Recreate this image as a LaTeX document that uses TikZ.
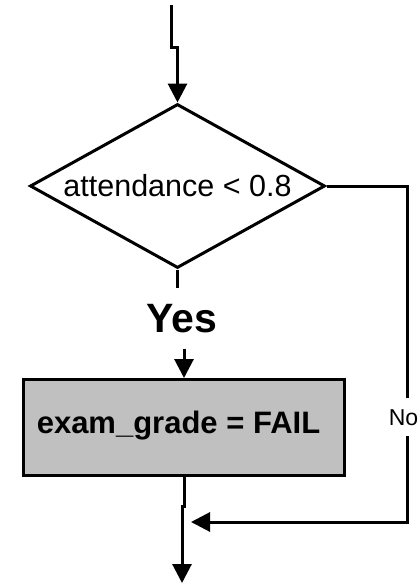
\documentclass[tikz,border=0pt]{standalone}
\usepackage{fontspec}
\setmainfont{Liberation Sans}
\usetikzlibrary{shapes.geometric,arrows.meta}
\definecolor{boxgrey}{RGB}{192,192,192}
\begin{document}
\begin{tikzpicture}[x=1pt,y=-1pt,
  line width=3pt,
  arr/.style={-{Triangle[length=19pt,width=19pt]}},
  decision/.style={draw, diamond, shape aspect=1.8, inner sep=0pt,
    minimum width=295pt, minimum height=164pt,
    font=\fontsize{30.5}{36}\selectfont},
  process/.style={draw, fill=boxgrey, inner sep=0pt,
    minimum width=321pt, minimum height=96pt},
  branchlabel/.style={font=\bfseries\fontsize{41}{48}\selectfont,
    anchor=base, inner xsep=0pt, inner ysep=14.6pt}]
\useasboundingbox (0,0) rectangle (419,584);

% free ends of the flow
\coordinate (entry) at (171.5,5);
\coordinate (exit) at (182,583);
\coordinate (noRight) at (407,522);
\coordinate (noEnd) at (191,522);

% shapes
\node[decision] (dec) at (177.5,186) {attendance < 0.8};
\node[process] (box) at (184,427.5) {};
\node[font=\bfseries\fontsize{31}{36}\selectfont, anchor=base] (boxtxt)
  at (178.5,433) {exam\_grade = FAIL};
\node[branchlabel] (yes) at (182,332) {Yes};

% connectors
\draw[arr] (entry) -- ++(0,42) -| (dec.north);
\draw (dec.south) -- (dec.south |- yes.north);
\draw[arr] (box.north |- yes.south) -- (box.north);
\draw[arr] (box.south) -- ++(0,29) -| (exit);
\draw[arr] (dec.east) -| (noRight) -- (noEnd);

% label on the "no" branch
\node[fill=white, font=\fontsize{23}{27}\selectfont, anchor=base,
  text height=16pt, text depth=0pt, inner ysep=11pt, inner xsep=1pt]
  (no) at (403.5,425) {No};
\end{tikzpicture}
\end{document}
